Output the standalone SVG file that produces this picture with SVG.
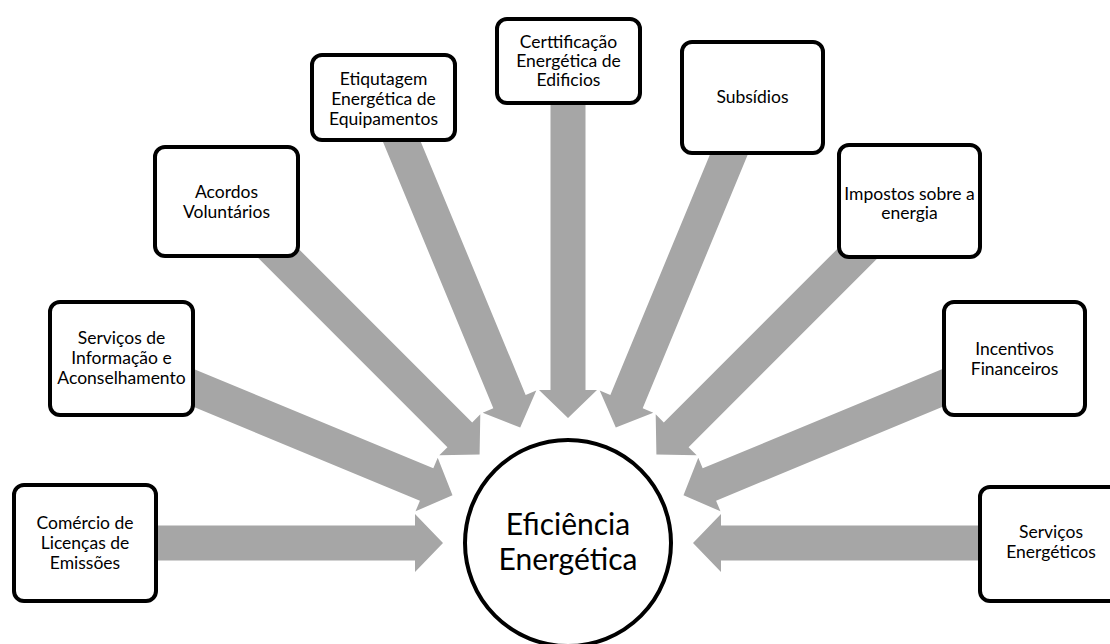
<svg xmlns="http://www.w3.org/2000/svg" xmlns:xlink="http://www.w3.org/1999/xlink" width="1110" height="644" viewBox="0 0 1110 644">
  <style>
    .box { fill: #ffffff; stroke: #000000; stroke-width: 4; }
    .hub { fill: #ffffff; stroke: #000000; stroke-width: 4; }
    .lbl { font-family: "Lato", "Open Sans", "Liberation Sans", sans-serif; font-size: 17.5px; fill: #000000; text-anchor: middle; }
    .hubtxt { font-family: "Lato", "Open Sans", "Liberation Sans", sans-serif; font-size: 30px; fill: #000000; text-anchor: middle; }
    .arrow { fill: #a6a6a6; }
  </style>
  <defs>
    <!-- block arrow pointing right, tip at the origin -->
    <polygon id="blockArrow" class="arrow" points="-330,-17.5 -28,-17.5 -28,-29 0,0 -28,29 -28,17.5 -330,17.5"/>
  </defs>
  <rect width="1110" height="644" fill="#ffffff"/>

  <!-- connectors: every arrow aims at the hub centre (568,543) -->
  <g id="connectors">
    <use xlink:href="#blockArrow" transform="translate(443,543) rotate(0)"/>
    <use xlink:href="#blockArrow" transform="translate(452.5,495.2) rotate(22.5)"/>
    <use xlink:href="#blockArrow" transform="translate(479.6,454.6) rotate(45)"/>
    <use xlink:href="#blockArrow" transform="translate(520.2,427.5) rotate(67.5)"/>
    <use xlink:href="#blockArrow" transform="translate(568,418) rotate(90)"/>
    <use xlink:href="#blockArrow" transform="translate(615.8,427.5) rotate(112.5)"/>
    <use xlink:href="#blockArrow" transform="translate(656.4,454.6) rotate(135)"/>
    <use xlink:href="#blockArrow" transform="translate(683.5,495.2) rotate(157.5)"/>
    <use xlink:href="#blockArrow" transform="translate(693,543) rotate(180)"/>
  </g>

  <g id="hub">
    <circle class="hub" cx="568" cy="543" r="103"/>
    <text class="hubtxt" x="568" y="535">Eficiência</text>
    <text class="hubtxt" x="568" y="570">Energética</text>
  </g>

  <g id="comercio">
    <rect class="box" x="14" y="485" width="142" height="116" rx="10"/>
    <text class="lbl" x="85" y="529">Comércio de</text>
    <text class="lbl" x="85" y="549">Licenças de</text>
    <text class="lbl" x="85" y="569">Emissões</text>
  </g>

  <g id="informacao">
    <rect class="box" x="50" y="302" width="143" height="113" rx="10"/>
    <text class="lbl" x="121.5" y="344">Serviços de</text>
    <text class="lbl" x="121.5" y="364">Informação e</text>
    <text class="lbl" x="121.5" y="384">Aconselhamento</text>
  </g>

  <g id="acordos">
    <rect class="box" x="155" y="147" width="143" height="109" rx="10"/>
    <text class="lbl" x="226.5" y="198">Acordos</text>
    <text class="lbl" x="226.5" y="218">Voluntários</text>
  </g>

  <g id="etiquetagem">
    <rect class="box" x="312" y="55" width="143" height="85" rx="10"/>
    <text class="lbl" x="383.5" y="85">Etiqutagem</text>
    <text class="lbl" x="383.5" y="105">Energética de</text>
    <text class="lbl" x="383.5" y="125">Equipamentos</text>
  </g>

  <g id="certificacao">
    <rect class="box" x="497" y="19" width="143" height="84" rx="10"/>
    <text class="lbl" x="568.5" y="48">Certtificação</text>
    <text class="lbl" x="568.5" y="67">Energética de</text>
    <text class="lbl" x="568.5" y="86">Edificios</text>
  </g>

  <g id="subsidios">
    <rect class="box" x="682" y="42" width="141" height="111" rx="10"/>
    <text class="lbl" x="752.5" y="103">Subsídios</text>
  </g>

  <g id="impostos">
    <rect class="box" x="839" y="145" width="141" height="112" rx="10"/>
    <text class="lbl" x="909.5" y="200">Impostos sobre a</text>
    <text class="lbl" x="909.5" y="219">energia</text>
  </g>

  <g id="incentivos">
    <rect class="box" x="944" y="302" width="141" height="113" rx="10"/>
    <text class="lbl" x="1014.5" y="355">Incentivos</text>
    <text class="lbl" x="1014.5" y="375">Financeiros</text>
  </g>

  <g id="servicos-energeticos">
    <rect class="box" x="980" y="487" width="142" height="114" rx="10"/>
    <text class="lbl" x="1051" y="538">Serviços</text>
    <text class="lbl" x="1051" y="558">Energéticos</text>
  </g>
</svg>
